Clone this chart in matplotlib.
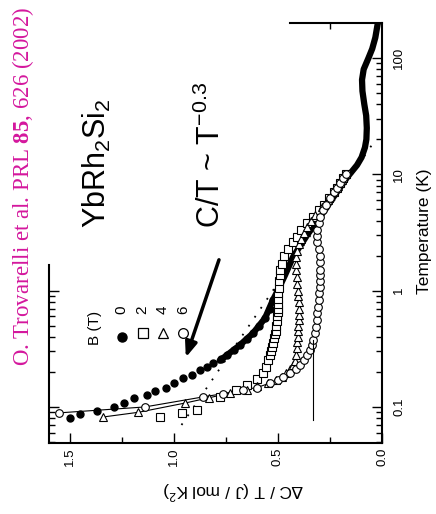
import numpy as np
import matplotlib.pyplot as plt
from matplotlib.ticker import FixedLocator, NullFormatter

plt.rcParams['font.family'] = ['Liberation Sans', 'DejaVu Sans']
plt.rcParams['mathtext.fontset'] = 'custom'
plt.rcParams['mathtext.rm'] = 'Liberation Sans'
plt.rcParams['mathtext.it'] = 'Liberation Sans'
plt.rcParams['mathtext.bf'] = 'Liberation Serif:bold'

# B = 0 T : temperature (K) and dC/T (J/mol K^2)
t_b0 = [0.080, 0.087, 0.092, 0.100, 0.108, 0.119, 0.126, 0.137, 0.146, 0.161,
        0.177, 0.190, 0.208, 0.222, 0.239, 0.258, 0.279, 0.31, 0.34, 0.385,
        0.43, 0.50, 0.58, 0.70, 0.83, 1.01]
c_b0 = [1.50, 1.45, 1.37, 1.29, 1.24, 1.19, 1.13, 1.09, 1.04, 1.00,
        0.957, 0.913, 0.875, 0.84, 0.81, 0.775, 0.745, 0.712, 0.683, 0.65,
        0.62, 0.59, 0.562, 0.54, 0.524, 0.50]
# dense part of the zero-field curve
t_b0_hi = [0.25, 0.279, 0.34, 0.43, 0.58, 0.83, 1.01, 1.36, 1.94, 3.0, 4.3, 6.5,
           9.4, 12, 14, 17, 20, 25, 32, 40, 52, 65, 80, 100, 120, 150, 200]
c_b0_hi = [0.78, 0.745, 0.683, 0.62, 0.562, 0.524, 0.50, 0.466, 0.428, 0.36, 0.298,
           0.23, 0.168, 0.12, 0.098, 0.082, 0.075, 0.073, 0.076, 0.085, 0.094,
           0.096, 0.088, 0.065, 0.047, 0.032, 0.020]

# B = 2 T
t_b2 = [0.082, 0.089, 0.094, 0.122, 0.14, 0.154, 0.175, 0.195, 0.22, 0.253, 0.28,
        0.30, 0.33, 0.354, 0.39, 0.42, 0.45, 0.50, 0.55, 0.60, 0.65, 0.70, 0.77,
        0.85, 0.95, 1.05, 1.2, 1.35, 1.5, 1.7, 2.0, 2.3, 2.6, 2.9, 3.3, 3.8, 4.3,
        4.9, 5.5, 6.2, 7.0, 7.7, 8.5, 9.3, 10]
c_b2 = [1.067, 0.96, 0.89, 0.78, 0.70, 0.65, 0.60, 0.57, 0.555, 0.55, 0.54,
        0.535, 0.53, 0.524, 0.52, 0.515, 0.51, 0.508, 0.505, 0.503, 0.50, 0.50, 0.50,
        0.50, 0.50, 0.497, 0.495, 0.49, 0.49, 0.48, 0.47, 0.45, 0.43, 0.41, 0.39,
        0.36, 0.33, 0.305, 0.28, 0.255, 0.23, 0.215, 0.20, 0.185, 0.175]
# B = 4 T
t_b4 = [0.082, 0.09, 0.108, 0.12, 0.132, 0.14, 0.15, 0.16, 0.17, 0.18, 0.195, 0.21,
        0.23, 0.25, 0.28, 0.32, 0.36, 0.40, 0.45, 0.5, 0.56, 0.62, 0.7, 0.8, 0.9,
        1.0, 1.15, 1.3, 1.5, 1.7, 1.95, 2.2, 2.5, 2.8, 3.1, 3.5, 4.0, 4.5, 5.2, 6.0,
        7.0, 8.0, 9.0, 10]
c_b4 = [1.34, 1.17, 0.947, 0.83, 0.73, 0.65, 0.60, 0.55, 0.51, 0.48, 0.46, 0.44,
        0.43, 0.42, 0.415, 0.41, 0.408, 0.405, 0.405, 0.402, 0.40, 0.40, 0.40, 0.40,
        0.402, 0.405, 0.408, 0.41, 0.413, 0.415, 0.413, 0.41, 0.40, 0.39, 0.375,
        0.36, 0.34, 0.32, 0.29, 0.26, 0.235, 0.21, 0.19, 0.175]
# B = 6 T
t_b6 = [0.089, 0.10, 0.122, 0.13, 0.14, 0.147, 0.16, 0.17, 0.18, 0.195, 0.21, 0.23,
        0.255, 0.28, 0.31, 0.34, 0.38, 0.43, 0.49, 0.56, 0.64, 0.72, 0.83, 0.95,
        1.07, 1.2, 1.35, 1.5, 1.75, 2.0, 2.3, 2.6, 2.95, 3.3, 3.8, 4.3, 4.9, 5.5,
        6.2, 7.0, 7.7, 8.5, 9.3, 10]
c_b6 = [1.55, 1.14, 0.86, 0.765, 0.67, 0.60, 0.54, 0.50, 0.476, 0.44, 0.415, 0.394,
        0.375, 0.36, 0.348, 0.337, 0.33, 0.322, 0.318, 0.313, 0.31, 0.308, 0.305,
        0.303, 0.30, 0.30, 0.298, 0.298, 0.30, 0.30, 0.305, 0.31, 0.31, 0.31, 0.305,
        0.30, 0.285, 0.27, 0.25, 0.23, 0.215, 0.20, 0.185, 0.175]

# logarithmic fit dC/T = a log10(T0/T)
t_fit = [0.07, 19.0]
a_fit, t0_fit = 0.38, 24.0

fig = plt.figure(figsize=(4.36, 5.14), dpi=100)
ax = fig.add_axes([49 / 436, 1 - 443 / 514, 333 / 436, 420 / 514])
ax.set_xlim(1.6, 0.0)
ax.set_yscale('log')
ax.set_ylim(0.049, 200)

tt = np.geomspace(t_fit[0], t_fit[1], 40)
ax.plot(a_fit * np.log10(t0_fit / tt), tt, ls=(0, (1, 5)), color='k', lw=1.3)

ax.plot(c_b0_hi, t_b0_hi, color='k', lw=4.5, solid_capstyle='round')
ax.plot(c_b0, t_b0, 'o', color='k', ms=5)
ax.plot(c_b4[:5], t_b4[:5], '-', color='k', lw=0.8)
ax.plot(c_b6[:7], t_b6[:7], '-', color='k', lw=0.8)
ax.plot(c_b2, t_b2, 's', mfc='white', mec='k', ms=5.5, mew=0.8)
ax.plot(c_b4, t_b4, '^', mfc='white', mec='k', ms=5.5, mew=0.8)
ax.plot(c_b6, t_b6, 'o', mfc='white', mec='k', ms=5.5, mew=0.8)
ax.plot([0.33, 0.33], [0.077, 0.38], color='k', lw=0.8)

# frame
for s in ax.spines.values():
    s.set_linewidth(1.5)
ax.spines['left'].set_bounds(0.049, 1.67)
ax.spines['top'].set_bounds(0.44, 0.0)

ax.xaxis.set_major_locator(FixedLocator([1.5, 1.0, 0.5, 0.0]))
ax.xaxis.set_minor_locator(FixedLocator([1.25, 0.75, 0.25]))
ax.yaxis.tick_right()
ax.tick_params(which='both', direction='in', top=False, left=False, labelsize=9.5,
               width=1)
ax.tick_params(which='major', length=7)
ax.tick_params(which='minor', length=4)
ax.set_xticklabels(['1.5', '1.0', '0.5', '0.0'], rotation=90)
ax.set_yticks([0.1, 1, 10, 100])
ax.set_yticklabels(['0.1', '1', '10', '100'], rotation=90, va='center')
ax.tick_params(axis='y', pad=8)

sec_l = ax.secondary_yaxis('left')
sec_l.yaxis.set_major_locator(FixedLocator([0.1, 1]))
sec_l.yaxis.set_minor_locator(FixedLocator([0.05, 0.06, 0.07, 0.08, 0.09, 0.2, 0.3,
                                            0.4, 0.5, 0.6, 0.7, 0.8, 0.9]))
sec_l.yaxis.set_major_formatter(NullFormatter())
sec_l.yaxis.set_minor_formatter(NullFormatter())
sec_l.tick_params(which='both', direction='in', width=1)
sec_l.tick_params(which='major', length=7)
sec_l.tick_params(which='minor', length=4)
sec_l.spines['left'].set_visible(False)

sec_t = ax.secondary_xaxis('top')
sec_t.xaxis.set_major_locator(FixedLocator([0.25]))
sec_t.xaxis.set_major_formatter(NullFormatter())
sec_t.tick_params(direction='in', length=4, width=1)
sec_t.spines['top'].set_visible(False)

fig.text(424 / 436, 1 - 231 / 514, 'Temperature (K)', rotation=90, ha='center',
         va='center', fontsize=12.5)
fig.text(233 / 436, 1 - 490 / 514, r'$\Delta$C / T (J / mol K$^2$)', rotation=180,
         ha='center', va='center', fontsize=12.5)

# legend
fig.text(95 / 436, 1 - 328 / 514, 'B (T)', rotation=90, ha='center', va='center',
         fontsize=11)
leg_c = [1.25, 1.15, 1.053, 0.957]
leg_t = [0.40, 0.43, 0.43, 0.43]
leg_lab = ['0', '2', '4', '6']
ax.plot(leg_c[0], leg_t[0], 'o', color='k', ms=6.5)
ax.plot(leg_c[1], leg_t[1], 's', mfc='white', mec='k', ms=6.5, mew=0.9)
ax.plot(leg_c[2], leg_t[2], '^', mfc='white', mec='k', ms=7, mew=0.9)
ax.plot(leg_c[3], leg_t[3], 'o', mfc='white', mec='k', ms=7, mew=0.9)
for c, lab in zip(leg_c, leg_lab):
    ax.text(c, 0.68, lab, rotation=90, ha='center', va='center', fontsize=11)

fig.text(23 / 436, 1 - 186 / 514,
         r'O. Trovarelli et al. PRL $\mathbf{85}$, 626 (2002)', rotation=90,
         ha='center', va='center', fontsize=16.5, color='#d4179d',
         family='Liberation Serif')
fig.text(97 / 436, 1 - 163 / 514, r'YbRh$_2$Si$_2$', rotation=90, ha='center',
         va='center', fontsize=22)
fig.text(211 / 436, 1 - 155 / 514, r'C/T ~ T$^{-0.3}$', rotation=90, ha='center',
         va='center', fontsize=22)
ax.annotate('', xy=(0.947, 0.253), xytext=(0.779, 1.94),
            arrowprops=dict(arrowstyle='-|>,head_width=0.35,head_length=0.9',
                            color='k', lw=2.5), annotation_clip=False)

fig.savefig('out.png', dpi=100)
